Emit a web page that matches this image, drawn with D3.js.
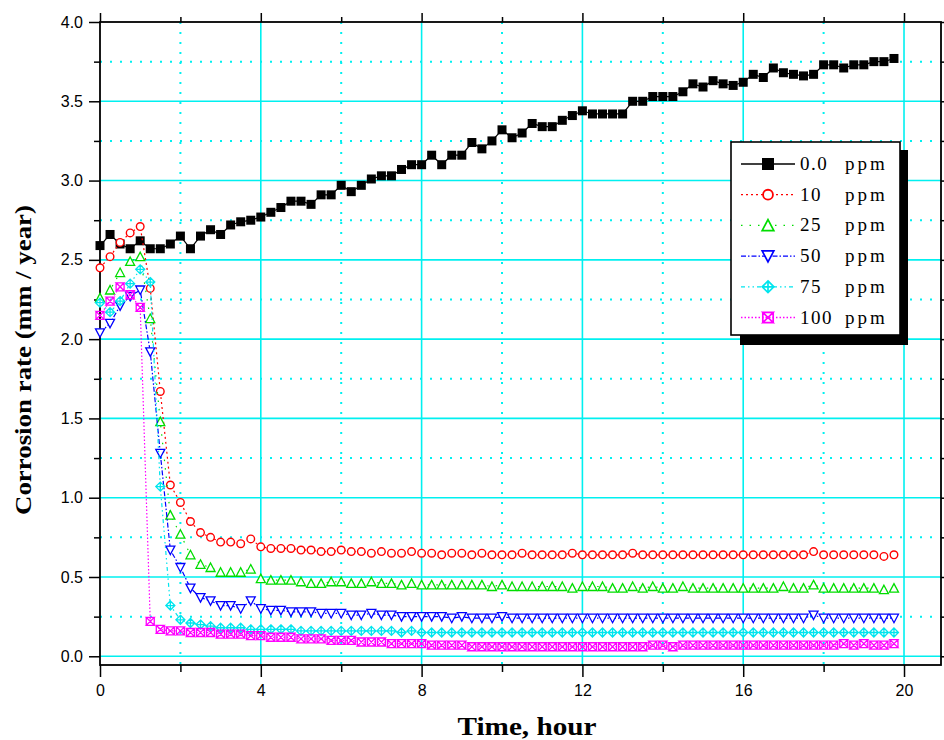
<!DOCTYPE html>
<html><head><meta charset="utf-8">
<script src="https://cdn.jsdelivr.net/npm/d3@7"></script>
<style>body{margin:0;background:#fff}</style>
</head><body><svg id="c" width="944" height="740" xmlns="http://www.w3.org/2000/svg"></svg>
<script>
const timeHours = [0,0.25,0.5,0.75,1,1.25,1.5,1.75,2,2.25,2.5,2.75,3,3.25,3.5,3.75,4,4.25,4.5,4.75,
5,5.25,5.5,5.75,6,6.25,6.5,6.75,7,7.25,7.5,7.75,8,8.25,8.5,8.75,9,9.25,9.5,9.75,
10,10.25,10.5,10.75,11,11.25,11.5,11.75,12,12.25,12.5,12.75,13,13.25,13.5,13.75,14,14.25,14.5,14.75,
15,15.25,15.5,15.75,16,16.25,16.5,16.75,17,17.25,17.5,17.75,18,18.25,18.5,18.75,19,19.25,19.5,19.75];

const ppm0 = [2.59,2.66,2.60,2.57,2.62,2.57,2.57,2.60,2.65,2.57,2.65,2.69,2.66,2.72,2.74,2.75,2.77,2.80,2.83,2.87,
2.87,2.85,2.91,2.91,2.97,2.93,2.97,3.01,3.03,3.03,3.07,3.10,3.10,3.16,3.10,3.16,3.16,3.24,3.20,3.25,
3.32,3.27,3.30,3.36,3.34,3.34,3.38,3.41,3.44,3.42,3.42,3.42,3.42,3.50,3.50,3.53,3.53,3.53,3.56,3.61,
3.59,3.63,3.61,3.60,3.62,3.67,3.65,3.71,3.68,3.67,3.66,3.67,3.73,3.73,3.71,3.73,3.73,3.75,3.75,3.77];

const ppm10 = [2.45,2.52,2.61,2.67,2.71,2.32,1.67,1.08,0.97,0.85,0.78,0.75,0.72,0.72,0.71,0.74,0.69,0.68,0.68,0.68,
0.67,0.67,0.66,0.66,0.67,0.66,0.66,0.65,0.66,0.65,0.65,0.66,0.65,0.65,0.64,0.65,0.65,0.64,0.65,0.64,
0.64,0.64,0.65,0.64,0.64,0.64,0.64,0.65,0.64,0.64,0.64,0.64,0.64,0.65,0.64,0.64,0.64,0.64,0.64,0.64,
0.64,0.64,0.64,0.64,0.64,0.64,0.64,0.64,0.64,0.64,0.64,0.66,0.64,0.64,0.64,0.64,0.64,0.64,0.63,0.64];

const ppm25 = [2.26,2.31,2.42,2.49,2.52,2.13,1.48,0.89,0.77,0.64,0.58,0.56,0.53,0.53,0.53,0.55,0.49,0.48,0.48,0.48,
0.47,0.46,0.46,0.47,0.47,0.46,0.46,0.47,0.46,0.46,0.45,0.46,0.45,0.45,0.45,0.45,0.45,0.45,0.45,0.44,
0.45,0.44,0.44,0.44,0.44,0.44,0.44,0.43,0.44,0.44,0.44,0.43,0.43,0.44,0.43,0.44,0.43,0.43,0.44,0.43,
0.43,0.43,0.43,0.43,0.43,0.43,0.43,0.43,0.44,0.43,0.43,0.45,0.43,0.43,0.43,0.43,0.43,0.43,0.42,0.43];

const ppm50 = [2.04,2.10,2.21,2.27,2.31,1.92,1.28,0.67,0.56,0.43,0.37,0.35,0.32,0.32,0.30,0.35,0.30,0.29,0.29,0.28,
0.28,0.28,0.27,0.27,0.27,0.26,0.26,0.27,0.26,0.26,0.25,0.25,0.25,0.25,0.25,0.24,0.25,0.24,0.24,0.24,
0.25,0.24,0.24,0.24,0.24,0.24,0.24,0.24,0.24,0.24,0.24,0.24,0.24,0.24,0.24,0.24,0.24,0.24,0.24,0.24,
0.24,0.24,0.24,0.24,0.24,0.24,0.24,0.24,0.24,0.24,0.24,0.26,0.24,0.24,0.24,0.24,0.24,0.24,0.24,0.24];

const ppm75 = [2.23,2.17,2.24,2.35,2.44,2.36,1.07,0.32,0.23,0.21,0.20,0.19,0.18,0.18,0.18,0.17,0.17,0.17,0.17,0.17,
0.16,0.16,0.16,0.16,0.16,0.16,0.16,0.16,0.16,0.16,0.15,0.16,0.15,0.15,0.15,0.15,0.15,0.15,0.15,0.15,
0.15,0.15,0.15,0.15,0.15,0.15,0.15,0.15,0.15,0.15,0.15,0.15,0.15,0.15,0.15,0.15,0.15,0.15,0.15,0.15,
0.15,0.15,0.15,0.15,0.15,0.15,0.15,0.15,0.15,0.15,0.15,0.15,0.15,0.15,0.15,0.15,0.15,0.15,0.15,0.15];

const ppm100 = [2.15,2.24,2.33,2.28,2.20,0.22,0.17,0.16,0.16,0.15,0.15,0.15,0.14,0.14,0.14,0.13,0.13,0.12,0.12,0.12,
0.11,0.11,0.11,0.10,0.10,0.10,0.09,0.09,0.09,0.08,0.08,0.08,0.08,0.07,0.07,0.07,0.07,0.06,0.06,0.06,
0.06,0.06,0.06,0.06,0.06,0.06,0.06,0.06,0.06,0.06,0.06,0.06,0.06,0.06,0.06,0.07,0.07,0.06,0.07,0.07,
0.07,0.07,0.07,0.07,0.07,0.07,0.07,0.07,0.07,0.07,0.07,0.07,0.07,0.07,0.08,0.07,0.08,0.07,0.07,0.08];

const seriesLabels = ["0.0", "10", "25", "50", "75", "100"];
const xTickLabels = [0, 4, 8, 12, 16, 20];
const xMinorTicks = [2, 6, 10, 14, 18];
const yTickLabels = [0.0, 0.5, 1.0, 1.5, 2.0, 2.5, 3.0, 3.5, 4.0];
const yMinorTicks = [0.25, 0.75, 1.25, 1.75, 2.25, 2.75, 3.25, 3.75];

const seriesValues = [ppm0, ppm10, ppm25, ppm50, ppm75, ppm100];
const styles = [
  {color:"#000000", dash:null, marker:"square"},
  {color:"#ff0000", dash:"2,3", marker:"circle"},
  {color:"#00dd00", dash:"1.5,7", marker:"tri"},
  {color:"#0000ff", dash:"5,2,1.5,2", marker:"tridown"},
  {color:"#00e5ee", dash:"4,3,1.5,3,1.5,3", marker:"diamond"},
  {color:"#ff00ff", dash:"1.5,2", marker:"xsq"}
];

const svg = d3.select("#c");
const x = d3.scaleLinear().domain([0, 20.92]).range([100, 941]);
const y = d3.scaleLinear().domain([-0.055, 4.0]).range([665, 22]);
const cyan = "#00f0f0";

// grid
const grid = svg.append("g");
grid.selectAll(".gxm").data(xMinorTicks).join("line")
  .attr("x1", d=>x(d)).attr("x2", d=>x(d)).attr("y1", y(4.0)).attr("y2", y(-0.055))
  .attr("stroke", cyan).attr("stroke-width", 2).attr("stroke-dasharray", "2,8");
grid.selectAll(".gym").data(yMinorTicks).join("line")
  .attr("y1", d=>y(d)).attr("y2", d=>y(d)).attr("x1", x(0)).attr("x2", x(20.92))
  .attr("stroke", cyan).attr("stroke-width", 2).attr("stroke-dasharray", "2,8");
grid.selectAll(".gx").data(xTickLabels.filter(d=>d>0)).join("line")
  .attr("x1", d=>x(d)).attr("x2", d=>x(d)).attr("y1", y(4.0)).attr("y2", y(-0.055))
  .attr("stroke", cyan).attr("stroke-width", 1.6);
grid.selectAll(".gy").data(yTickLabels.filter(d=>d<4)).join("line")
  .attr("y1", d=>y(d)).attr("y2", d=>y(d)).attr("x1", x(0)).attr("x2", x(20.92))
  .attr("stroke", cyan).attr("stroke-width", 1.6);

// axes
function styleAxis(g){ g.select(".domain").remove(); g.selectAll("line").attr("stroke","#000").attr("stroke-width",1.5); }
svg.append("g").attr("transform","translate(100,0)")
  .call(d3.axisLeft(y).tickValues(yTickLabels).tickSize(11).tickPadding(6).tickFormat(d3.format(".1f")))
  .call(styleAxis)
  .selectAll("text").attr("font-family","Liberation Sans, Arial, sans-serif").attr("font-size",16).attr("fill","#000");
svg.append("g").attr("transform","translate(100,0)")
  .call(d3.axisLeft(y).tickValues(yMinorTicks).tickSize(6).tickFormat(""))
  .call(styleAxis);
svg.append("g").attr("transform","translate(0,665)")
  .call(d3.axisBottom(x).tickValues(xTickLabels).tickSize(12).tickPadding(8).tickFormat(d3.format("d")))
  .call(styleAxis)
  .selectAll("text").attr("font-family","Liberation Sans, Arial, sans-serif").attr("font-size",16).attr("fill","#000");
svg.append("g").attr("transform","translate(0,665)")
  .call(d3.axisBottom(x).tickValues(xMinorTicks).tickSize(7).tickFormat(""))
  .call(styleAxis);
svg.append("g").attr("transform","translate(0,22)")
  .call(d3.axisTop(x).tickValues(xTickLabels).tickSize(9).tickFormat("")).call(styleAxis);
svg.append("g").attr("transform","translate(0,22)")
  .call(d3.axisTop(x).tickValues(xMinorTicks).tickSize(5).tickFormat("")).call(styleAxis);
svg.append("g").attr("transform","translate(941,0)")
  .call(d3.axisRight(y).tickValues(yTickLabels).tickSize(9).tickFormat("")).call(styleAxis);
svg.append("g").attr("transform","translate(941,0)")
  .call(d3.axisRight(y).tickValues(yMinorTicks).tickSize(5).tickFormat("")).call(styleAxis);

// frame
svg.append("rect").attr("x",100).attr("y",22).attr("width",841).attr("height",643)
  .attr("fill","none").attr("stroke","#000").attr("stroke-width",1.8);

// markers
function marker(g, type, color){
  const s = 4.5;
  if(type==="square"){
    g.append("rect").attr("x",-s).attr("y",-s).attr("width",2*s).attr("height",2*s).attr("fill",color);
  } else if(type==="circle"){
    g.append("circle").attr("r",3.8).attr("fill","#fff").attr("stroke",color).attr("stroke-width",1.4);
  } else if(type==="tri"){
    g.append("path").attr("d",`M0,${-s}L${s},${s-0.5}L${-s},${s-0.5}Z`).attr("fill","#fff").attr("stroke",color).attr("stroke-width",1.3);
  } else if(type==="tridown"){
    g.append("path").attr("d",`M0,${s}L${s},${-s+0.5}L${-s},${-s+0.5}Z`).attr("fill","#fff").attr("stroke",color).attr("stroke-width",1.3);
  } else if(type==="diamond"){
    g.append("path").attr("d",`M0,${-s}L${s},0L0,${s}L${-s},0Z M0,${-s}L0,${s} M${-s},0L${s},0`).attr("fill","#fff").attr("stroke",color).attr("stroke-width",1.3);
  } else if(type==="xsq"){
    const t = 4;
    g.append("path").attr("d",`M${-t},${-t}L${t},${-t}L${-t},${t}L${t},${t}Z M${-t},${-t}L${-t},${t} M${t},${-t}L${t},${t}`).attr("fill","none").attr("stroke",color).attr("stroke-width",1.3);
  }
}

const plot = svg.append("g");
const lineGen = d3.line().x((d,i)=>x(timeHours[i])).y(d=>y(d));
seriesValues.forEach((vals, si)=>{
  const st = styles[si];
  const g = plot.append("g");
  g.append("path").attr("d", lineGen(vals)).attr("fill","none").attr("stroke",st.color)
    .attr("stroke-width",1.2).attr("stroke-dasharray", st.dash);
  vals.forEach((v,i)=>{
    const mg = g.append("g").attr("transform",`translate(${x(timeHours[i])},${y(v)})`);
    marker(mg, st.marker, st.color);
  });
});

// legend
const lg = svg.append("g");
lg.append("rect").attr("x",740).attr("y",150).attr("width",168).attr("height",195).attr("fill","#000");
lg.append("rect").attr("x",731).attr("y",142).attr("width",169).attr("height",193).attr("fill","#fff").attr("stroke","#000").attr("stroke-width",1.6);
seriesLabels.forEach((lab, i)=>{
  const st = styles[i];
  const cy = 164 + i*30.7;
  lg.append("line").attr("x1",741).attr("x2",795).attr("y1",cy).attr("y2",cy)
    .attr("stroke",st.color).attr("stroke-width",1.3).attr("stroke-dasharray",st.dash);
  const mg = lg.append("g").attr("transform",`translate(768,${cy})`);
  if(st.marker==="square"){
    mg.append("rect").attr("x",-6).attr("y",-6).attr("width",12).attr("height",12).attr("fill","#000");
  } else {
    mg.attr("transform",`translate(768,${cy}) scale(1.3)`);
    marker(mg, st.marker, st.color);
  }
  lg.append("text").attr("x",800).attr("y",cy+6).text(lab)
    .attr("font-family","Liberation Serif, serif").attr("font-size",19).attr("letter-spacing",1.5).attr("fill","#000");
  lg.append("text").attr("x",845).attr("y",cy+6).text("ppm")
    .attr("font-family","Liberation Serif, serif").attr("font-size",19).attr("letter-spacing",3).attr("fill","#000");
});

// titles
svg.append("text").attr("x",527).attr("y",735).attr("text-anchor","middle")
  .attr("font-family","Liberation Serif, serif").attr("font-weight","bold").attr("font-size",25)
  .attr("textLength",139).attr("lengthAdjust","spacingAndGlyphs").text("Time, hour");
svg.append("text").attr("transform","translate(31,360) rotate(-90)").attr("text-anchor","middle")
  .attr("font-family","Liberation Serif, serif").attr("font-weight","bold").attr("font-size",23)
  .attr("textLength",310).attr("lengthAdjust","spacingAndGlyphs").text("Corrosion rate (mm / year)");
</script></body></html>
